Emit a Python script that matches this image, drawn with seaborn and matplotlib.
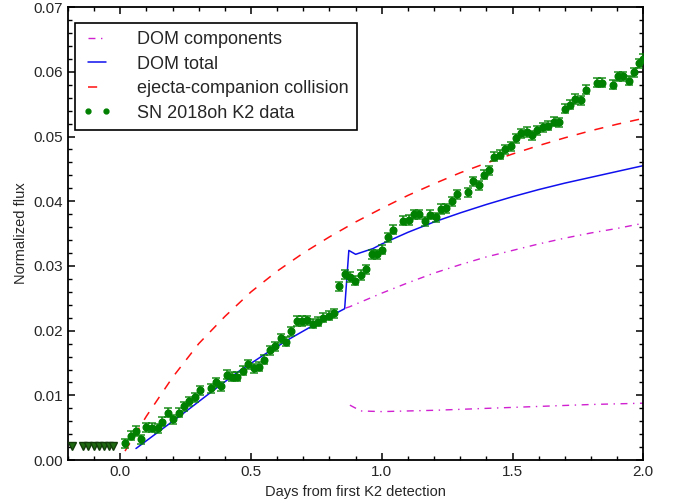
import numpy as np
import pandas as pd
import seaborn as sns
import matplotlib.pyplot as plt
from matplotlib.ticker import MultipleLocator

# upper limits before first detection
lim_t = [-0.185, -0.142, -0.123, -0.102, -0.083, -0.064, -0.045, -0.026]
lim_f = [0.0022, 0.0022, 0.0022, 0.0022, 0.0022, 0.0022, 0.0022, 0.0022]

# SN 2018oh K2 light curve
k2_t = [0.018, 0.041, 0.060, 0.080, 0.100, 0.121, 0.143, 0.161, 0.183, 0.203,
        0.223, 0.245, 0.264, 0.285, 0.305, 0.346, 0.367, 0.387, 0.408, 0.428,
        0.448, 0.469, 0.489, 0.510, 0.530, 0.551, 0.571, 0.593, 0.613, 0.633,
        0.653, 0.674, 0.695, 0.715, 0.736, 0.756, 0.777, 0.797, 0.817, 0.838,
        0.858, 0.878, 0.899, 0.920, 0.940, 0.961, 0.981, 1.001, 1.022, 1.042,
        1.083, 1.103, 1.124, 1.144, 1.165, 1.185, 1.206, 1.226, 1.247, 1.267,
        1.288, 1.329, 1.349, 1.370, 1.391, 1.411, 1.431, 1.452, 1.472, 1.493,
        1.513, 1.534, 1.554, 1.575, 1.595, 1.616, 1.636, 1.657, 1.677, 1.699,
        1.720, 1.740, 1.761, 1.781, 1.822, 1.842, 1.883, 1.903, 1.924, 1.944,
        1.965, 1.985, 2.000]
k2_f = [0.0026, 0.0038, 0.0045, 0.0032, 0.0051, 0.0050, 0.0049, 0.0059, 0.0073, 0.0063,
        0.0073, 0.0083, 0.0091, 0.0097, 0.0108, 0.0111, 0.0120, 0.0114, 0.0132, 0.0129,
        0.0129, 0.0138, 0.0148, 0.0142, 0.0144, 0.0155, 0.0170, 0.0176, 0.0188, 0.0183,
        0.0199, 0.0215, 0.0215, 0.0216, 0.0211, 0.0214, 0.0220, 0.0223, 0.0227, 0.0269,
        0.0287, 0.0283, 0.0277, 0.0286, 0.0295, 0.0318, 0.0318, 0.0325, 0.0344, 0.0356,
        0.0370, 0.0371, 0.0380, 0.0380, 0.0369, 0.0379, 0.0375, 0.0388, 0.0389, 0.0400,
        0.0411, 0.0414, 0.0431, 0.0425, 0.0441, 0.0448, 0.0469, 0.0472, 0.0480, 0.0485,
        0.0497, 0.0505, 0.0507, 0.0502, 0.0510, 0.0514, 0.0517, 0.0523, 0.0522, 0.0543,
        0.0549, 0.0558, 0.0556, 0.0572, 0.0583, 0.0583, 0.0580, 0.0593, 0.0593, 0.0586,
        0.0599, 0.0613, 0.0620]
k2_err = 0.0007

# DOM total model
dom_t = [0.060, 0.15, 0.25, 0.35, 0.456, 0.558, 0.65, 0.75, 0.858, 0.874, 0.90,
         0.967, 1.0, 1.1, 1.2, 1.3, 1.4, 1.5, 1.6, 1.7, 1.8, 1.9, 2.0]
dom_f = [0.0018, 0.0045, 0.0075, 0.0106, 0.0138, 0.0165, 0.0188, 0.0211, 0.0234, 0.0324, 0.0318,
         0.0327, 0.0334, 0.0352, 0.0368, 0.0382, 0.0395, 0.0407, 0.0418, 0.0428, 0.0437,
         0.0446, 0.0455]

# DOM components
comp1_t = [0.862, 0.877, 1.0, 1.1, 1.2, 1.3, 1.4, 1.5, 1.6, 1.7, 1.8, 1.9, 2.0]
comp1_f = [0.0235, 0.0237, 0.0258, 0.0274, 0.0289, 0.0302, 0.0314, 0.0324, 0.0334, 0.0343,
           0.0351, 0.0358, 0.0366]
comp2_t = [0.878, 0.92, 1.0, 1.2, 1.4, 1.6, 1.8, 2.0]
comp2_f = [0.0085, 0.0076, 0.0075, 0.0077, 0.0080, 0.0083, 0.0086, 0.0088]

# ejecta-companion collision model
col_t = [0.018, 0.1, 0.2, 0.3, 0.4, 0.5, 0.6, 0.7, 0.8, 0.9, 1.0, 1.1, 1.2, 1.3,
         1.4, 1.5, 1.6, 1.7, 1.8, 1.9, 2.0]
col_f = [0.0014, 0.0068, 0.0128, 0.0180, 0.0222, 0.0260, 0.0292, 0.0320, 0.0345, 0.0368,
         0.0389, 0.0409, 0.0427, 0.0444, 0.0459, 0.0473, 0.0486, 0.0498, 0.0509, 0.0519, 0.0528]

sns.set_style("ticks")
plt.rcParams['font.family'] = ['Liberation Sans', 'DejaVu Sans']

fig = plt.figure(figsize=(6.8, 5.04), dpi=100)
ax = fig.add_axes([0.1, 0.087, 0.846, 0.899])

k2 = pd.DataFrame({'t': k2_t, 'f': k2_f})

sns.lineplot(x=comp1_t, y=comp1_f, ax=ax, sort=False, estimator=None, color='#d020d0',
             lw=1.0, linestyle=(0, (5, 4, 1, 4)), label='DOM components')
sns.lineplot(x=comp2_t, y=comp2_f, ax=ax, sort=False, estimator=None, color='#d020d0',
             lw=1.0, linestyle=(0, (5, 4, 1, 4)))
sns.lineplot(x=dom_t, y=dom_f, ax=ax, sort=False, estimator=None, color='#1010ee',
             lw=1.1, label='DOM total')
sns.lineplot(x=col_t, y=col_f, ax=ax, sort=False, estimator=None, color='#ff1010',
             lw=1.1, linestyle=(0, (6, 6)), label='ejecta-companion collision')

ax.errorbar(k2['t'], k2['f'], yerr=k2_err, fmt='none', ecolor='green', alpha=0.75,
            elinewidth=1.3, capsize=3, capthick=1.3, zorder=3)
ax.plot(k2['t'], k2['f'], 'o', color='green', ms=4.8, zorder=4, label='SN 2018oh K2 data')

ax.plot(lim_t, lim_f, 'v', color='#1f6b12', mec='#123d0a', ms=5.8, zorder=4, clip_on=False)

ax.set_xlim(-0.2, 2.0)
ax.set_ylim(0, 0.07)
ax.xaxis.set_major_locator(MultipleLocator(0.5))
ax.xaxis.set_minor_locator(MultipleLocator(0.1))
ax.yaxis.set_major_locator(MultipleLocator(0.01))
ax.yaxis.set_minor_locator(MultipleLocator(0.002))
ax.xaxis.set_major_formatter(plt.FormatStrFormatter('%.1f'))
ax.yaxis.set_major_formatter(plt.FormatStrFormatter('%.2f'))
ax.tick_params(which='both', direction='in', top=True, right=True, labelsize=11, color='black')
ax.tick_params(which='major', length=5, width=1.1)
ax.tick_params(which='minor', length=3, width=1.0)
for s in ax.spines.values():
    s.set_linewidth(1.3)
    s.set_color('black')

ax.set_xlabel('Days from first K2 detection', fontsize=10.5)
ax.set_ylabel('Normalized flux', fontsize=10.5)

leg = ax.legend(loc='upper left', fontsize=13, numpoints=2, handlelength=1.6,
                fancybox=False, framealpha=1, edgecolor='black', borderpad=0.45,
                labelspacing=0.42, handletextpad=1.4, bbox_to_anchor=(-0.004, 0.985))
leg.get_frame().set_linewidth(1.2)
for h in leg.legend_handles:
    if h.get_marker() == 'o':
        h.set_markersize(3.5)

fig.savefig('out.png', dpi=100)
